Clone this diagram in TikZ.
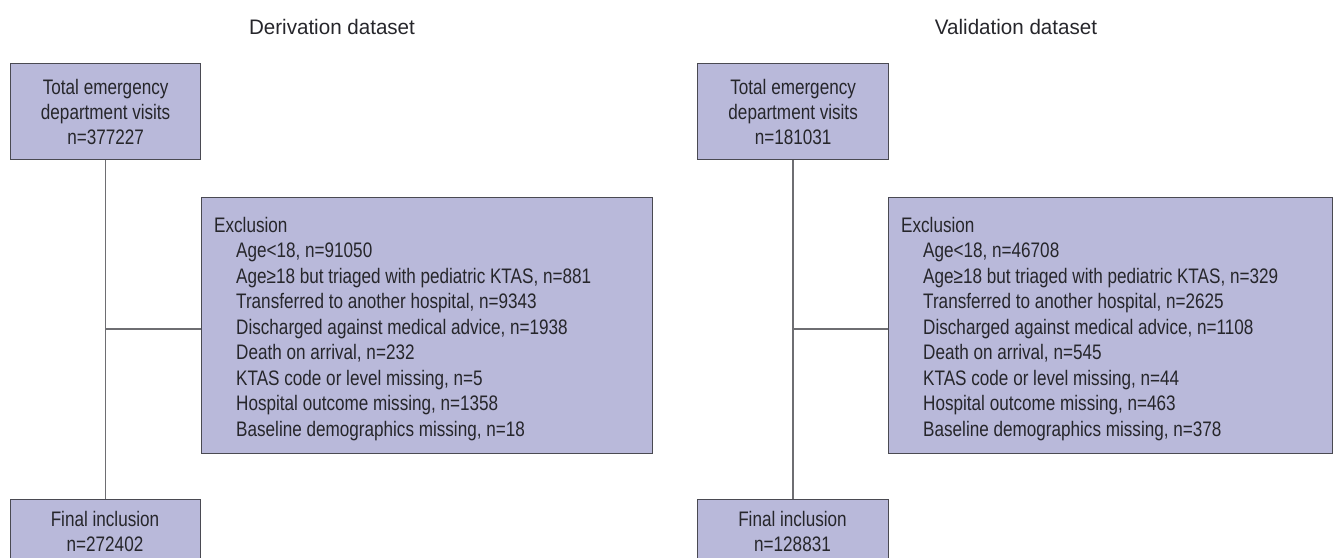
\documentclass[tikz,border=0pt]{standalone}
\usepackage{fontspec}
\setmainfont[FakeStretch=0.815]{Liberation Sans}
\newfontfamily\titlefont[FakeStretch=0.98]{Liberation Sans}
\definecolor{boxfill}{HTML}{B9B9DA}
\definecolor{boxline}{HTML}{4A4A52}
\definecolor{conline}{HTML}{6E6E72}
\definecolor{txt}{HTML}{26262B}
\begin{document}
\begin{tikzpicture}[x=1pt,y=-1pt,
  every node/.style={text=txt, font=\fontsize{21}{25}\selectfont},
  box/.style={draw=boxline, line width=1.3pt, fill=boxfill, inner sep=0pt, anchor=north west},
  lbl/.style={align=center, inner sep=0pt},
  ttl/.style={inner sep=0pt, font=\titlefont\fontsize{21}{25}\selectfont},
  exc/.style={align=left, inner sep=0pt, anchor=north west, font=\fontsize{21}{25.5}\selectfont},
  con/.style={draw=conline, line width=1.5pt}]
\useasboundingbox (0,0) rectangle (1338,557);
% titles
\node[ttl] (titL) at (332,27) {Derivation dataset};
\node[ttl] (titR) at (1016,27) {Validation dataset};
% left column
\node[box, minimum width=190, minimum height=96] (totL) at (10,63) {};
\node[lbl] (totLt) at (totL.center) {Total emergency\\department visits\\n=377227};
\node[box, minimum width=190, minimum height=60] (finL) at (10,499) {};
\node[lbl] (finLt) at (105,531) {Final inclusion\\n=272402};
\node[box, minimum width=451, minimum height=256] (exL) at (201,197) {};
\node[exc] (exLt) at (214,217) {Exclusion\\
\hspace*{22pt}Age<18, n=91050\\
\hspace*{22pt}Age≥18 but triaged with pediatric KTAS, n=881\\
\hspace*{22pt}Transferred to another hospital, n=9343\\
\hspace*{22pt}Discharged against medical advice, n=1938\\
\hspace*{22pt}Death on arrival, n=232\\
\hspace*{22pt}KTAS code or level missing, n=5\\
\hspace*{22pt}Hospital outcome missing, n=1358\\
\hspace*{22pt}Baseline demographics missing, n=18};
\coordinate (jL) at (totL.south |- 0,329);
\draw[con] (totL.south) -- (finL.north);
\draw[con] (jL) -- (jL -| exL.west);
% right column
\node[box, minimum width=191, minimum height=96] (totR) at (697,63) {};
\node[lbl] (totRt) at (totR.center) {Total emergency\\department visits\\n=181031};
\node[box, minimum width=191, minimum height=60] (finR) at (697,499) {};
\node[lbl] (finRt) at (792.5,531) {Final inclusion\\n=128831};
\node[box, minimum width=444, minimum height=256] (exR) at (888,197) {};
\node[exc] (exRt) at (901,217) {Exclusion\\
\hspace*{22pt}Age<18, n=46708\\
\hspace*{22pt}Age≥18 but triaged with pediatric KTAS, n=329\\
\hspace*{22pt}Transferred to another hospital, n=2625\\
\hspace*{22pt}Discharged against medical advice, n=1108\\
\hspace*{22pt}Death on arrival, n=545\\
\hspace*{22pt}KTAS code or level missing, n=44\\
\hspace*{22pt}Hospital outcome missing, n=463\\
\hspace*{22pt}Baseline demographics missing, n=378};
\coordinate (jR) at (totR.south |- 0,329);
\draw[con] (totR.south) -- (finR.north);
\draw[con] (jR) -- (jR -| exR.west);
\end{tikzpicture}
\end{document}
